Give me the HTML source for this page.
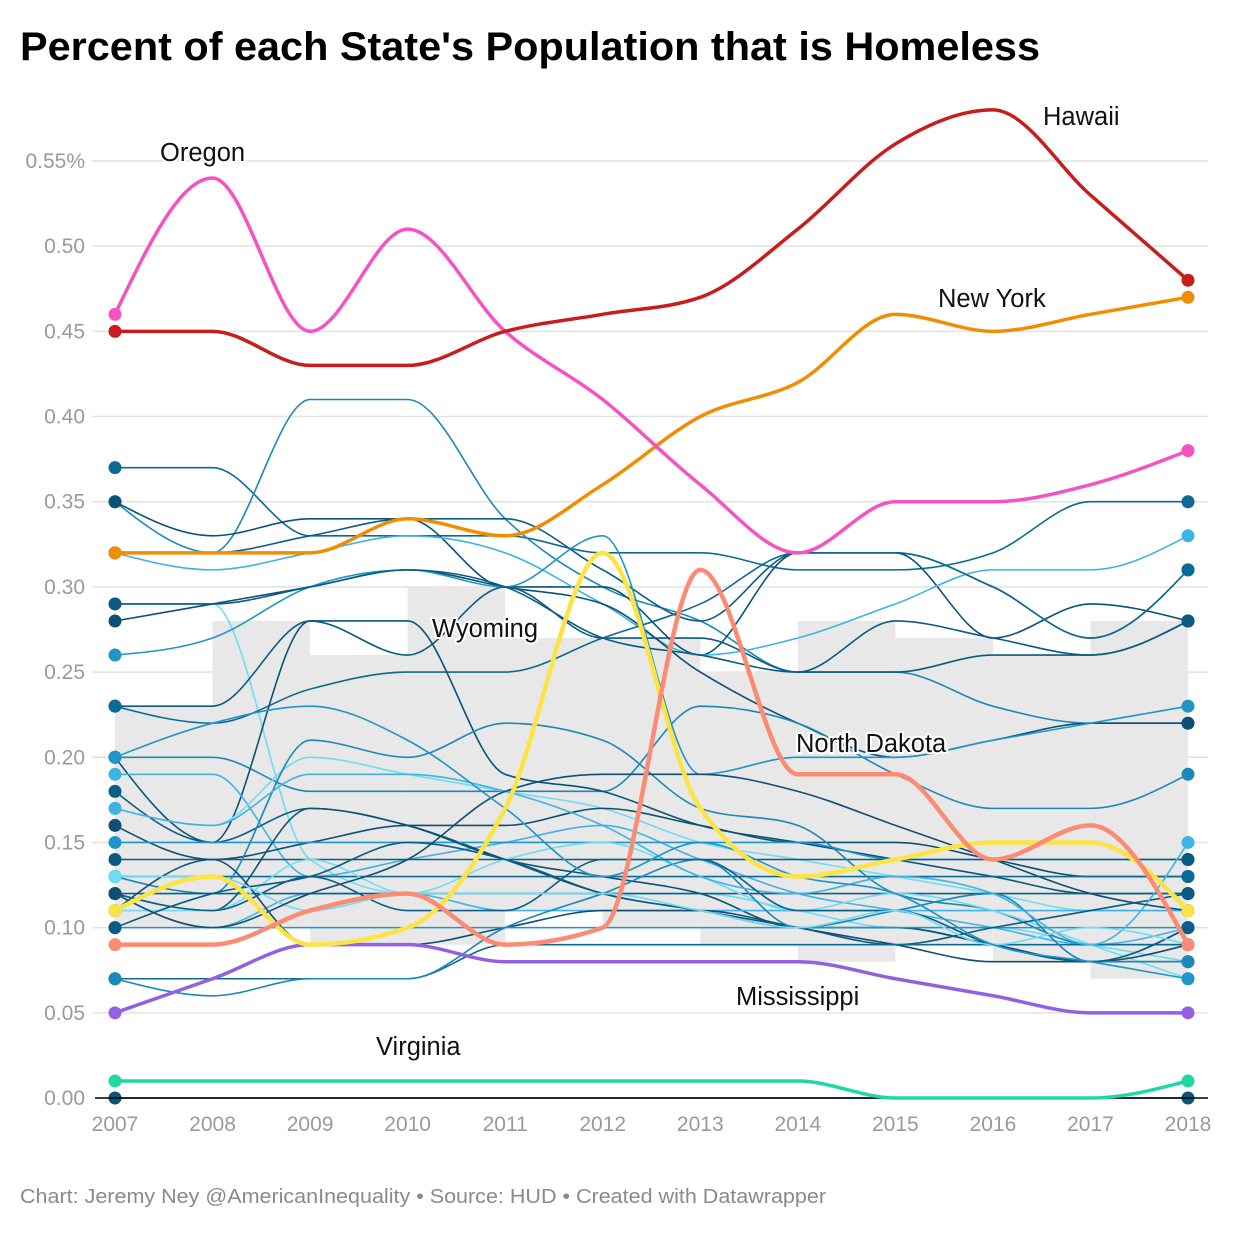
<!DOCTYPE html>
<html><head><meta charset="utf-8"><style>
body{margin:0;background:#fff;font-family:"Liberation Sans",sans-serif}
svg text{font-family:"Liberation Sans",sans-serif}
</style></head><body>
<svg id="chart" width="1240" height="1240" viewBox="0 0 1240 1240" xmlns="http://www.w3.org/2000/svg">
<rect width="1240" height="1240" fill="#fff"/>
<text x="20" y="60" font-size="40" font-weight="bold" fill="#000" textLength="1020" lengthAdjust="spacingAndGlyphs">Percent of each State's Population that is Homeless</text>
<g id="grid"></g><g id="band"></g><g id="bg"></g><g id="hl"></g><g id="labels"></g>
<text x="20" y="1203" font-size="20" fill="#8a8a8a" textLength="806" lengthAdjust="spacingAndGlyphs">Chart: Jeremy Ney @AmericanInequality • Source: HUD • Created with Datawrapper</text>
</svg>
<script>
const years=[2007,2008,2009,2010,2011,2012,2013,2014,2015,2016,2017,2018];
const yTicks=[0,0.05,0.10,0.15,0.20,0.25,0.30,0.35,0.40,0.45,0.50,0.55];
const yTickLabels=["0.00","0.05","0.10","0.15","0.20","0.25","0.30","0.35","0.40","0.45","0.50","0.55%"];
const bandTop=[0.23,0.28,0.26,0.30,0.27,0.27,0.25,0.28,0.27,0.26,0.28];
const bandBottom=[0.10,0.10,0.09,0.09,0.11,0.10,0.09,0.08,0.09,0.08,0.07];
const hawaii=[0.45,0.45,0.43,0.43,0.45,0.46,0.47,0.51,0.56,0.58,0.53,0.48];
const oregon=[0.46,0.54,0.45,0.51,0.45,0.41,0.36,0.32,0.35,0.35,0.36,0.38];
const newYork=[0.32,0.32,0.32,0.34,0.33,0.36,0.40,0.42,0.46,0.45,0.46,0.47];
const wyoming=[0.11,0.13,0.09,0.10,0.17,0.32,0.17,0.13,0.14,0.15,0.15,0.11];
const northDakota=[0.09,0.09,0.11,0.12,0.09,0.10,0.31,0.19,0.19,0.14,0.16,0.09];
const mississippi=[0.05,0.07,0.09,0.09,0.08,0.08,0.08,0.08,0.07,0.06,0.05,0.05];
const virginia=[0.01,0.01,0.01,0.01,0.01,0.01,0.01,0.01,0.00,0.00,0.00,0.01];
const others=[
[.37,.37,.33,.33,.33,.32,.32,.31,.31,.32,.35,.35],
[.35,.32,.41,.41,.34,.30,.28,.25,.25,.23,.22,.22],
[.35,.33,.34,.34,.30,.30,.26,.32,.32,.27,.29,.28],
[.32,.31,.32,.33,.32,.29,.26,.27,.29,.31,.31,.33],
[.32,.32,.33,.34,.34,.31,.28,.32,.32,.30,.27,.31],
[.29,.29,.14,.12,.12,.12,.12,.11,.10,.10,.09,.08],
[.28,.29,.30,.31,.30,.29,.25,.22,.20,.21,.22,.22],
[.26,.27,.30,.31,.30,.33,.19,.20,.20,.21,.22,.23],
[.23,.23,.28,.26,.30,.27,.27,.25,.28,.27,.26,.28],
[.23,.22,.24,.25,.25,.27,.29,.32,.32,.30,.27,.31],
[.20,.20,.18,.18,.18,.18,.23,.22,.19,.17,.17,.19],
[.20,.15,.28,.28,.19,.18,.16,.15,.14,.13,.12,.12],
[.19,.19,.13,.14,.15,.16,.14,.12,.11,.10,.09,.10],
[.18,.15,.17,.16,.14,.12,.11,.10,.10,.09,.08,.08],
[.17,.16,.20,.19,.18,.17,.15,.14,.13,.12,.11,.11],
[.16,.14,.15,.16,.16,.17,.16,.15,.15,.14,.13,.13],
[.15,.15,.15,.15,.15,.15,.15,.15,.14,.14,.14,.14],
[.14,.14,.14,.14,.14,.14,.14,.14,.14,.14,.14,.14],
[.13,.13,.13,.13,.13,.13,.13,.13,.13,.13,.13,.13],
[.13,.12,.21,.20,.22,.21,.17,.16,.12,.11,.09,.09],
[.12,.11,.17,.16,.14,.13,.12,.10,.10,.09,.08,.10],
[.12,.10,.12,.12,.11,.11,.11,.11,.11,.11,.11,.11],
[.12,.12,.12,.12,.12,.12,.12,.12,.12,.12,.12,.12],
[.11,.11,.14,.12,.14,.15,.13,.11,.12,.11,.09,.07],
[.11,.14,.09,.09,.10,.11,.11,.10,.09,.08,.08,.09],
[.10,.10,.10,.10,.10,.10,.10,.10,.10,.10,.10,.10],
[.10,.12,.13,.15,.14,.12,.11,.10,.09,.10,.11,.12],
[.07,.07,.07,.07,.09,.09,.09,.09,.09,.09,.09,.09],
[.07,.06,.07,.07,.10,.12,.14,.10,.11,.12,.08,.08],
[0,0,0,0,0,0,0,0,0,0,0,0],
[.17,.16,.19,.19,.18,.16,.13,.12,.13,.12,.09,.15],
[.12,.11,.13,.11,.11,.14,.14,.11,.11,.09,.08,.10],
[.13,.13,.11,.12,.12,.12,.11,.10,.11,.09,.10,.09],
[.12,.10,.12,.14,.18,.19,.19,.18,.16,.14,.12,.11],
[.20,.22,.23,.21,.17,.13,.15,.13,.12,.09,.08,.07],
[.29,.29,.30,.31,.30,.27,.26,.25,.25,.26,.26,.28]
];
const NS="http://www.w3.org/2000/svg";
const X0=115,X1=1188,Y0=1098,Y55=161;
function xs(i){return X0+(X1-X0)*i/(years.length-1);}
function ys(v){return Y0-(Y0-Y55)*v/0.55;}
function mk(tag,attrs,parent){const e=document.createElementNS(NS,tag);for(const k in attrs)e.setAttribute(k,attrs[k]);parent.appendChild(e);return e;}
function monotone(pts){
  const n=pts.length;const d=[],m=new Array(n).fill(0);
  for(let i=0;i<n-1;i++)d.push((pts[i+1][1]-pts[i][1])/(pts[i+1][0]-pts[i][0]));
  for(let i=1;i<n-1;i++){
    if(d[i-1]*d[i]<=0){m[i]=0;}else{const h0=pts[i][0]-pts[i-1][0],h1=pts[i+1][0]-pts[i][0];
      const p=(d[i-1]*h1+d[i]*h0)/(h0+h1);
      m[i]=(Math.sign(d[i-1])+Math.sign(d[i]))*Math.min(Math.abs(d[i-1]),Math.abs(d[i]),0.5*Math.abs(p));}
  }
  m[0]=(3*d[0]-m[1])/2;if(m[0]*d[0]<=0)m[0]=0;
  m[n-1]=(3*d[n-2]-m[n-2])/2;if(m[n-1]*d[n-2]<=0)m[n-1]=0;
  let s="M"+pts[0][0]+","+pts[0][1];
  for(let i=0;i<n-1;i++){const h=(pts[i+1][0]-pts[i][0])/3;
    s+=" C"+(pts[i][0]+h)+","+(pts[i][1]+m[i]*h)+" "+(pts[i+1][0]-h)+","+(pts[i+1][1]-m[i+1]*h)+" "+pts[i+1][0]+","+pts[i+1][1];}
  return s;
}
const grid=document.getElementById('grid');
yTicks.forEach((t,i)=>{
  if(i>0){const l=mk('line',{x1:92,x2:1208,y1:ys(t),y2:ys(t),stroke:'#e2e2e2','stroke-width':1.5},grid);
  
  }
  const tx=mk('text',{x:85,y:ys(t)+7,'text-anchor':'end','font-size':21,fill:'#9a9a9a'},grid);tx.textContent=yTickLabels[i];
  
  
});
years.forEach((yr,i)=>{
  const tx=mk('text',{x:xs(i),y:1131,'text-anchor':'middle','font-size':21,fill:'#9a9a9a'},grid);tx.textContent=yr;
  
  
});
const band=document.getElementById('band');
bandTop.forEach((t,i)=>{
  const r=mk('rect',{x:xs(i),y:ys(t),width:xs(i+1)-xs(i),height:ys(bandBottom[i])-ys(t),fill:'#e8e8e8'},band);
  
  
});
const blues=['#0c6a94','#1a88b8','#0a5378','#3fb3e6','#0b5e88','#6fdcf3','#0e4f73','#1f95c8','#0a5a82'];
const bg=document.getElementById('bg');
function series(vals,color,w,parent,name){
  const p=mk('path',{d:monotone(vals.map((v,i)=>[xs(i),ys(v)])),fill:'none',stroke:color,'stroke-width':w},parent);
  
  
  [0,vals.length-1].forEach(i=>{const c=mk('circle',{cx:xs(i),cy:ys(vals[i]),r:6.5,fill:color},parent);
    
    });
}
others.forEach((v,k)=>series(v,blues[k%blues.length],1.6,bg,'state-line'));
const ax=mk('line',{x1:95,x2:1208,y1:Y0,y2:Y0,stroke:'#000','stroke-width':1.5},bg);


const hl=document.getElementById('hl');
series(virginia,'#1fd8a3',3.5,hl,'virginia-line');
series(mississippi,'#9460e3',3.5,hl,'mississippi-line');
series(wyoming,'#fde444',4.5,hl,'wyoming-line');
series(northDakota,'#fb8c73',4.5,hl,'north-dakota-line');
series(newYork,'#f28c00',3.5,hl,'new-york-line');
series(oregon,'#f552c2',3.5,hl,'oregon-line');
series(hawaii,'#c71e1d',3.5,hl,'hawaii-line');
const labels=document.getElementById('labels');
[['Hawaii',1043,125,'hawaii-label'],['Oregon',160,161,'oregon-label'],['New York',938,307,'new-york-label'],['Wyoming',432,637,'wyoming-label'],['North Dakota',796,752,'north-dakota-label'],['Mississippi',736,1005,'mississippi-label'],['Virginia',376,1055,'virginia-label']].forEach(a=>{
  const t=mk('text',{x:a[1],y:a[2],'font-size':25.5,fill:'#111',stroke:'#fff','stroke-width':4,'paint-order':'stroke'},labels);
  t.textContent=a[0];
  
  
});
</script>
</body></html>
